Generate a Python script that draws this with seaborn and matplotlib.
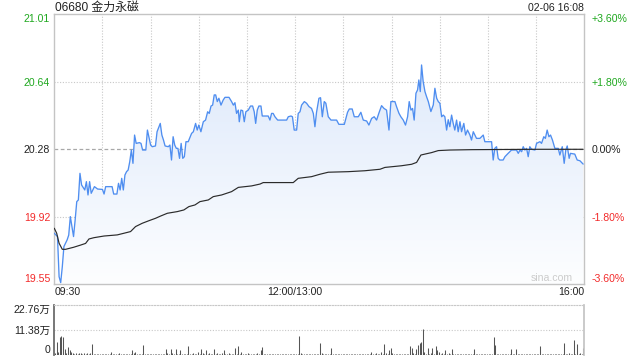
import numpy as np
import matplotlib
matplotlib.use("Agg")
import matplotlib.pyplot as plt
from matplotlib.colors import LinearSegmentedColormap
from matplotlib.patches import PathPatch
import seaborn as sns

# Intraday data for 06680, minutes counted from 09:30 (lunch break removed)
prev_close = 20.28

price_min = [0, 2, 3, 4, 5, 6, 8, 9, 10, 11, 12, 13, 14, 15, 16, 17, 19, 20, 21, 22,
             23, 24, 25, 27, 30, 31, 32, 36, 37, 39, 40, 41, 42, 43, 44, 45, 46, 47, 48, 49,
             50, 51, 53, 54, 55, 57, 58, 60, 61, 63, 64, 66, 67, 68, 69, 71, 72, 73, 74, 75,
             76, 77, 78, 79, 80, 81, 82, 83.4, 85.5, 86.6, 88, 89, 90, 91.3, 92.8, 94.2, 95.5, 96.5,
             97.6, 98.6, 99.6, 100.5, 101.5, 102.5, 103.8, 105.2, 106.3, 108.8, 110.4, 111.5,
             112.5, 113.5, 114.6, 115.2, 116.2, 117.3, 118.3, 119.3, 120.8, 122.2, 123.5, 124.5,
             125.4, 126.4, 127.4, 128.7, 129.5, 133.2, 134.3, 135.3, 136.3, 137.4, 139.1, 144.7,
             145.7, 147.4, 148.3, 149.4, 150.9, 151.9, 153, 154, 155.7, 157.1, 158.6, 160.2,
             161.3, 162.3, 163.3, 164.8, 165.8, 166.9, 168.1, 169.1, 170.6, 172.3, 175.8, 177.2,
             180.6, 182.6, 183.7, 185.5, 186.8, 189.3, 190.9, 192.4, 194.5, 195.9, 197.6, 199.2,
             200.7, 202.1, 203.8, 205.3, 206.9, 208.4, 209.6, 212.1, 213.1, 214.6, 215.8, 217.3,
             218.7, 220, 221, 222.1, 223.1, 224.1, 225.2, 226.2, 227, 227.9, 228.7, 229.7,
             230.8, 231.8, 232.9, 234.5, 236, 237, 238.1, 239.1, 240.1, 241.2, 242.2, 243.2,
             244.3, 245.3, 246.3, 247.4, 248.4, 249.4, 250.5, 251.5, 252.6, 253.6, 255, 256.1,
             257.3, 258.8, 259.8, 260.9, 261.9, 262.9, 265, 267.1, 268.1, 272.3, 273.3, 274.3,
             275.4, 276.4, 277.4, 279.5, 280.6, 282.6, 284.7, 287.8, 288.9, 290, 291, 292,
             293, 294.1, 295.1, 296.1, 297.2, 299.3, 300.3, 302.4, 303.4, 304.8, 305.8, 306.9,
             308, 309, 310.2, 311.7, 313.8, 314.8, 316.3, 317.5, 318.5, 319.4, 320.6, 321.4,
             324.1, 325.6, 327.3, 329.3]
price_val = [19.826, 19.808, 19.591, 19.559, 19.645, 19.754, 19.790, 19.816, 19.916, 19.862,
             19.808, 19.898, 19.997, 20.006, 20.150, 20.087, 20.060, 20.105, 20.033, 20.105,
             20.042, 20.060, 20.078, 20.065, 20.063, 20.038, 20.078, 20.078, 20.038, 20.038,
             20.096, 20.060, 20.123, 20.060, 20.141, 20.159, 20.168, 20.213, 20.276, 20.204,
             20.357, 20.312, 20.316, 20.312, 20.276, 20.276, 20.384, 20.303, 20.294, 20.298,
             20.375, 20.420, 20.357, 20.330, 20.298, 20.294, 20.303, 20.222, 20.348, 20.303,
             20.285, 20.285, 20.231, 20.312, 20.231, 20.240, 20.321, 20.321, 20.366, 20.375,
             20.420, 20.384, 20.411, 20.375, 20.429, 20.438, 20.483, 20.474, 20.514, 20.519,
             20.574, 20.574, 20.538, 20.556, 20.519, 20.547, 20.561, 20.561, 20.538, 20.519,
             20.532, 20.474, 20.492, 20.429, 20.492, 20.489, 20.429, 20.483, 20.492, 20.514,
             20.514, 20.483, 20.420, 20.492, 20.514, 20.514, 20.460, 20.460, 20.438, 20.474,
             20.474, 20.456, 20.438, 20.438, 20.456, 20.460, 20.456, 20.384, 20.384, 20.474,
             20.483, 20.519, 20.538, 20.529, 20.511, 20.501, 20.474, 20.402, 20.480, 20.556,
             20.559, 20.456, 20.538, 20.529, 20.456, 20.438, 20.438, 20.415, 20.415, 20.480,
             20.498, 20.498, 20.456, 20.456, 20.480, 20.438, 20.433, 20.411, 20.447, 20.456,
             20.438, 20.475, 20.516, 20.501, 20.492, 20.384, 20.538, 20.538, 20.511, 20.475,
             20.456, 20.438, 20.411, 20.456, 20.538, 20.492, 20.501, 20.438, 20.583, 20.601,
             20.655, 20.592, 20.736, 20.646, 20.592, 20.565, 20.538, 20.484, 20.520, 20.610,
             20.556, 20.538, 20.529, 20.456, 20.465, 20.456, 20.384, 20.440, 20.402, 20.465,
             20.420, 20.384, 20.438, 20.375, 20.429, 20.375, 20.420, 20.357, 20.384, 20.357,
             20.330, 20.375, 20.357, 20.339, 20.339, 20.357, 20.321, 20.321, 20.222, 20.285,
             20.294, 20.231, 20.222, 20.222, 20.240, 20.258, 20.276, 20.276, 20.258, 20.276,
             20.267, 20.294, 20.276, 20.285, 20.240, 20.294, 20.280, 20.276, 20.312, 20.321,
             20.312, 20.348, 20.339, 20.384, 20.348, 20.357, 20.330, 20.285, 20.285, 20.249,
             20.294, 20.204, 20.276, 20.298, 20.231, 20.258, 20.254, 20.222, 20.218, 20.200]

avg_min = [0, 1.5, 3, 5, 7, 12, 16.4, 19.5, 21.6, 24.7, 31, 39.2, 43.4, 47.5, 50.6, 54.8,
           59, 63.1, 66.2, 70.4, 76.6, 80.7, 83.8, 87.6, 90.7, 95.9, 99, 104.2, 107.3, 110.4,
           114.6, 122.9, 128.1, 130.1, 148.8, 151.9, 160.2, 165.4, 170.6, 183, 193.4, 202.8,
           205.9, 216.2, 222.5, 225.6, 228.3, 231.8, 234.9, 239.1, 246.3, 260, 280, 300, 329.3]
avg_val = [19.853, 19.826, 19.772, 19.739, 19.739, 19.750, 19.762, 19.771, 19.795, 19.802,
           19.811, 19.817, 19.826, 19.835, 19.862, 19.880, 19.894, 19.907, 19.919, 19.934,
           19.943, 19.952, 19.970, 19.979, 19.997, 20.006, 20.024, 20.033, 20.042, 20.051,
           20.074, 20.082, 20.092, 20.100, 20.100, 20.123, 20.132, 20.145, 20.156, 20.159,
           20.164, 20.172, 20.182, 20.191, 20.199, 20.209, 20.249, 20.256, 20.262, 20.273,
           20.276, 20.278, 20.279, 20.280, 20.280]

# volume per minute, thousands of shares
volume_k = [10, 61, 15, 84, 88, 80, 26, 8, 35, 23, 15, 9, 6, 8, 5, 9, 7, 6, 9, 5, 8, 6, 7, 50, 6, 5, 4, 6, 3, 5,
            4, 5, 3, 6, 4, 15, 5, 4, 3, 6, 8, 4, 5, 3, 4, 5, 6, 4, 23, 10, 14, 5, 4, 6, 3, 46, 5, 4, 6, 3,
            4, 5, 3, 6, 4, 5, 3, 6, 4, 26, 10, 5, 29, 10, 4, 26, 5, 6, 23, 4, 5, 6, 4, 41, 5, 4, 10, 5, 3, 14,
            5, 26, 10, 4, 23, 5, 8, 4, 6, 26, 5, 10, 4, 6, 10, 23, 5, 4, 10, 6, 3, 5, 30, 6, 41, 5, 12, 4, 5, 6,
            10, 4, 5, 3, 6, 4, 10, 5, 23, 35, 4, 3, 5, 4, 3, 5, 4, 6, 3, 4, 5, 3, 4, 5, 6, 3, 4, 5, 3, 4,
            5, 4, 88, 10, 4, 5, 3, 6, 4, 5, 3, 4, 6, 5, 4, 53, 8, 5, 4, 6, 3, 5, 30, 4, 5, 3, 6, 4, 5, 3,
            4, 5, 3, 6, 4, 5, 3, 4, 6, 5, 3, 4, 5, 6, 3, 4, 5, 12, 4, 3, 10, 5, 4, 12, 5, 50, 10, 4, 23, 30,
            10, 4, 5, 3, 6, 4, 5, 3, 4, 6, 5, 41, 30, 10, 5, 26, 46, 56, 61, 117, 12, 5, 30, 4, 10, 30, 5, 41, 23, 14,
            5, 10, 4, 23, 5, 10, 4, 26, 5, 6, 4, 5, 3, 6, 4, 5, 3, 4, 6, 5, 4, 26, 5, 3, 4, 6, 5, 4, 3, 5,
            4, 6, 5, 84, 46, 5, 4, 3, 6, 5, 4, 5, 3, 6, 26, 4, 5, 26, 3, 4, 6, 5, 4, 5, 3, 6, 4, 5, 3, 5,
            4, 6, 41, 5, 3, 4, 6, 5, 4, 3, 5, 6, 4, 5, 3, 4, 6, 53, 5, 4, 10, 5, 3, 68, 6, 50, 4, 10, 5, 30]

pct_ticks = [-3.6, -1.8, 0.0, 1.8, 3.6]
price_labels = ["19.55", "19.92", "20.28", "20.64", "21.01"]
pct_labels = ["-3.60%", "-1.80%", "0.00%", "+1.80%", "+3.60%"]
x_ticks = [0, 150, 330]
x_labels = ["09:30", "12:00/13:00", "16:00"]
vol_ticks = [0, 113.8, 227.6]
vol_labels = ["0", "11.38万", "22.76万"]

sns.set_theme(style="white")
plt.rcParams["font.family"] = ["Liberation Sans", "Noto Sans CJK SC", "DejaVu Sans"]

GREEN = "#1fa81f"
RED = "#f22a2a"
DARK = "#222222"
GRID = "#c8c8c8"
SPINE = "#c4c4c4"
label_colors = [RED, RED, DARK, GREEN, GREEN]

fig = plt.figure(figsize=(6.4, 3.6), dpi=100)
ax = fig.add_axes([0.0848, 0.2103, 0.8281, 0.75])
axv = fig.add_axes([0.0848, 0.0139, 0.8281, 0.1389])

ylo = prev_close * (1 + pct_ticks[0] / 100)
yhi = prev_close * (1 + pct_ticks[-1] / 100)
tick_pos = [prev_close * (1 + p / 100) for p in pct_ticks]

# gradient fill under the price line
fill = ax.fill_between(price_min, price_val, ylo, color="none", linewidth=0)
grad = np.linspace(0, 1, 256).reshape(-1, 1)
cmap = LinearSegmentedColormap.from_list("bluefade", ["#fdfeff", "#d8e5fa"])
img = ax.imshow(grad, extent=[0, 330, ylo, yhi], origin="lower", aspect="auto",
                cmap=cmap, zorder=1)
clip = PathPatch(fill.get_paths()[0], transform=ax.transData, facecolor="none",
                 edgecolor="none")
ax.add_patch(clip)
img.set_clip_path(clip)

# grid lines
for m in range(30, 330, 30):
    ax.axvline(m, color=GRID, lw=0.8, ls=(0, (1, 1.5)), zorder=0.5)
for p in tick_pos[1:-1]:
    if abs(p - prev_close) < 1e-9:
        ax.axhline(p, color="#a8a8a8", lw=0.9, ls=(0, (3, 2)), zorder=0.5)
    else:
        ax.axhline(p, color=GRID, lw=0.8, ls=(0, (1, 1.5)), zorder=0.5)

sns.lineplot(x=price_min, y=price_val, ax=ax, color="#4f8ef0", linewidth=0.95, zorder=3)
sns.lineplot(x=avg_min, y=avg_val, ax=ax, color="#2b2b2b", linewidth=0.85, zorder=4)

ax.set_xlim(0, 330)
ax.set_ylim(ylo, yhi)
ax.set_xlabel("")
ax.set_ylabel("")
ax.set_yticks(tick_pos)
ax.set_yticklabels(price_labels)
ax.set_xticks(x_ticks)
ax.set_xticklabels(x_labels)
ax.tick_params(axis="both", length=0, labelsize=7.6)
ax.tick_params(axis="y", pad=3)
ax.tick_params(axis="x", pad=2, colors="#222222")
for lab, c in zip(ax.get_yticklabels(), label_colors):
    lab.set_color(c)
ax.get_yticklabels()[0].set_va("bottom")
ax.get_yticklabels()[-1].set_va("top")
ax.get_xticklabels()[0].set_ha("left")
ax.get_xticklabels()[-1].set_ha("right")
for s in ax.spines.values():
    s.set_color(SPINE)
    s.set_linewidth(1.0)

ax2 = ax.twinx()
ax2.set_ylim(ylo, yhi)
ax2.set_yticks(tick_pos)
ax2.set_yticklabels(pct_labels)
ax2.tick_params(axis="y", length=0, labelsize=7.6, pad=5)
for lab, c in zip(ax2.get_yticklabels(), label_colors):
    lab.set_color(c)
ax2.get_yticklabels()[0].set_va("bottom")
ax2.get_yticklabels()[-1].set_va("top")
for s in ax2.spines.values():
    s.set_visible(False)

ax.text(0.939, 0.006, "sina.com", transform=ax.transAxes, ha="center", va="bottom",
        fontsize=7.6, color="#cccccc", zorder=5)

# volume panel
vx = np.arange(len(volume_k))
axv.vlines(vx + 0.5, 0, volume_k, color="#555555", linewidth=0.75)
axv.set_xlim(0, 330)
axv.set_ylim(0, vol_ticks[-1])
axv.axhline(vol_ticks[1], color=GRID, lw=0.8, ls=(0, (1, 1.5)))
axv.set_xticks([])
axv.set_yticks(vol_ticks)
axv.set_yticklabels(vol_labels)
axv.tick_params(axis="y", length=0, labelsize=7.6, pad=3, colors="#222222")
axv.get_yticklabels()[0].set_va("bottom")
axv.get_yticklabels()[-1].set_va("top")
axv.spines["top"].set_color(GRID)
axv.spines["top"].set_linestyle((0, (1, 1.5)))
axv.spines["top"].set_linewidth(0.8)
axv.spines["bottom"].set_visible(False)
axv.spines["left"].set_color("#666666")
axv.spines["right"].set_color(SPINE)

fig.text(55 / 640, 1 - 8 / 360, "06680 金力永磁", ha="left", va="center",
         fontsize=8.6, color="#222222")
fig.text(584 / 640, 1 - 8 / 360, "02-06 16:08", ha="right", va="center",
         fontsize=7.6, color="#222222")

fig.savefig("out.png", dpi=100)
